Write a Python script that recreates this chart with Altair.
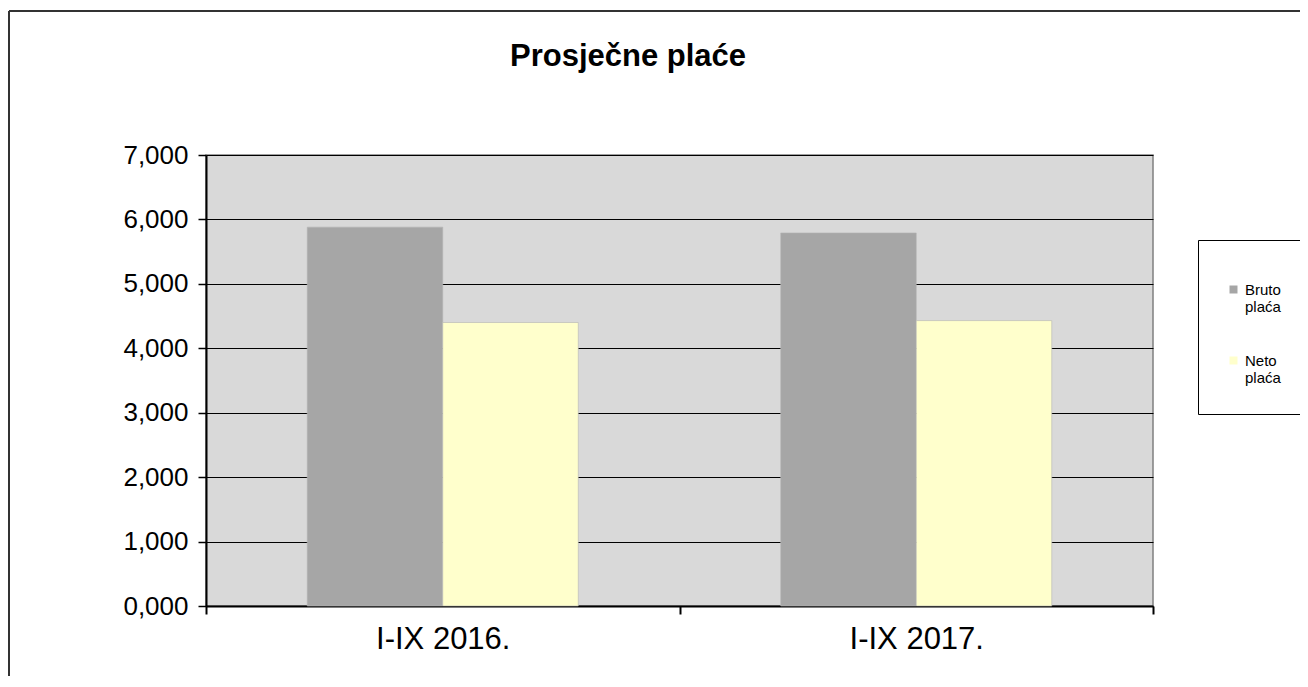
import altair as alt
import pandas as pd

periods = ["I-IX 2016.", "I-IX 2017."]
series = ["Bruto plaća", "Neto plaća"]
bruto = [5.88, 5.79]
neto = [4.40, 4.43]
y_ticks = [0, 1, 2, 3, 4, 5, 6, 7]
colors = ["#a6a6a6", "#ffffcc"]
title_text = "Prosječne plaće"

rows = []
for i, p in enumerate(periods):
    rows.append({"period": p, "series": series[0], "value": bruto[i]})
    rows.append({"period": p, "series": series[1], "value": neto[i]})
df = pd.DataFrame(rows)

FONT = "Liberation Sans"

bars = alt.Chart(df).mark_bar(stroke="#b4b4b4", strokeWidth=0.6).encode(
    x=alt.X(
        "period:N", sort=periods,
        scale=alt.Scale(paddingInner=0, paddingOuter=0),
        axis=alt.Axis(title=None, tickBand="extent", labelAngle=0, labelFontSize=31,
                      labelFont=FONT, labelColor="black", labelPadding=10,
                      domainColor="black", domainWidth=2, tickColor="black",
                      tickWidth=2, tickSize=8, grid=False),
    ),
    xOffset=alt.XOffset("series:N", sort=series,
                        scale=alt.Scale(paddingInner=0, paddingOuter=0.747)),
    y=alt.Y(
        "value:Q",
        scale=alt.Scale(domain=[0, 7], nice=False),
        axis=alt.Axis(title=None, values=y_ticks,
                      labelExpr="replace(format(datum.value, '.3f'), '.', ',')",
                      labelFontSize=26, labelFont=FONT, labelColor="black",
                      labelPadding=10, domainColor="black", domainWidth=2,
                      tickColor="black", tickSize=8, tickWidth=1.5,
                      grid=True, gridColor="black", gridWidth=1.2, gridOpacity=1),
    ),
    color=alt.Color(
        "series:N",
        scale=alt.Scale(domain=series, range=colors),
        legend=alt.Legend(
            title=" ", titleFontSize=12, titlePadding=2,
            orient="none", legendX=992, legendY=85,
            strokeColor="black", fillColor="white", padding=28,
            rowPadding=38, symbolType="square", symbolSize=64,
            symbolStrokeWidth=0, labelOffset=4,
            labelExpr="split(datum.label, ' ')",
            labelFontSize=15, labelFont=FONT, labelColor="black",
        ),
    ),
)

one = pd.DataFrame({"k": [0]})
frame_top = alt.Chart(one).mark_rule(color="#333333", strokeWidth=2).encode(
    x=alt.value(-197), x2=alt.value(1300), y=alt.value(-144)
)
frame_left = alt.Chart(one).mark_rule(color="#333333", strokeWidth=2).encode(
    x=alt.value(-197), y=alt.value(-144), y2=alt.value(700)
)
title = alt.Chart(one).mark_text(
    font=FONT, fontSize=31, fontWeight="bold", color="black",
    align="center", baseline="alphabetic"
).encode(x=alt.value(422), y=alt.value(-89), text=alt.value(title_text))

chart = alt.layer(bars, frame_top, frame_left, title).properties(
    width=947,
    height=451,
    view=alt.ViewBackground(fill="#d9d9d9", stroke="#808080", strokeWidth=1.5),
    padding={"left": 198, "top": 147, "right": 147, "bottom": 70},
    autosize=alt.AutoSizeParams(type="none"),
).configure(background="white")

chart.save("out.html", embed_options={"renderer": "svg", "actions": False})
